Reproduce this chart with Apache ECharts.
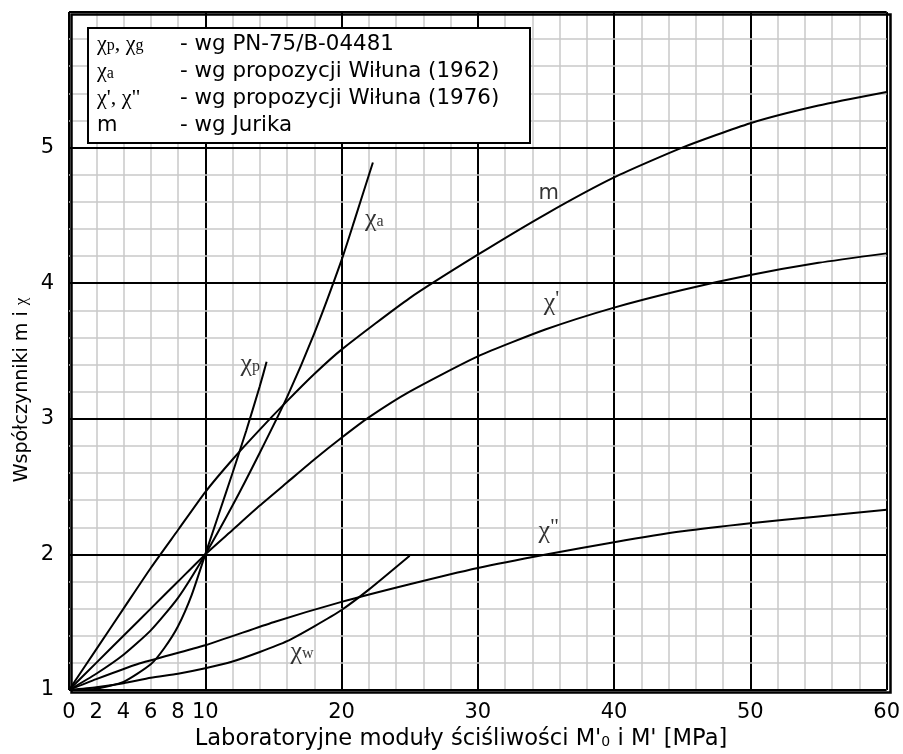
<!DOCTYPE html>
<html>
<head>
<meta charset="utf-8">
<script src="https://cdn.jsdelivr.net/npm/echarts@6/dist/echarts.min.js"></script>
<style>
  html, body { margin: 0; padding: 0; background: #fff; }
  #chart { width: 903px; height: 754px; }
</style>
</head>
<body>
<div id="chart"></div>
<script>
// Curves: x = laboratory modulus [MPa], y = coefficient value
const mX = [0, 2, 4, 6, 8, 10, 12, 14, 16, 18, 20, 25, 30, 35, 40, 45, 50, 55, 60];
const mY = [1, 1.3, 1.6, 1.9, 2.18, 2.46, 2.7, 2.92, 3.13, 3.33, 3.51, 3.89, 4.21, 4.51, 4.78, 5.0, 5.18, 5.31, 5.41];

const chiPrimeX = [0, 2, 4, 6, 8, 10, 12, 14, 16, 18, 20, 22, 25, 30, 35, 40, 45, 50, 55, 60];
const chiPrimeY = [1, 1.2, 1.4, 1.6, 1.8, 2.0, 2.18, 2.36, 2.53, 2.7, 2.86, 3.01, 3.2, 3.46, 3.66, 3.82, 3.95, 4.06, 4.15, 4.22];

const chiBisX = [0, 2, 5, 10, 15, 20, 25, 30, 35, 40, 45, 50, 55, 60];
const chiBisY = [1, 1.08, 1.19, 1.33, 1.5, 1.65, 1.78, 1.9, 2.0, 2.09, 2.17, 2.23, 2.28, 2.33];

const chiWX = [0, 2, 4, 6, 8, 10, 12, 14, 16, 18, 20, 22, 25];
const chiWY = [1, 1.02, 1.05, 1.09, 1.12, 1.16, 1.21, 1.28, 1.36, 1.47, 1.59, 1.74, 1.99];

const chiAX = [0, 2, 4, 6, 8, 10, 12, 14, 16, 18, 20, 21, 22.3];
const chiAY = [1, 1.12, 1.26, 1.44, 1.68, 2.0, 2.36, 2.75, 3.16, 3.63, 4.17, 4.48, 4.89];

const chiPX = [0, 2, 4, 6, 7, 8, 9, 10, 11, 12, 13, 14, 14.5];
const chiPY = [1, 1.01, 1.06, 1.19, 1.31, 1.47, 1.7, 2.0, 2.3, 2.6, 2.91, 3.24, 3.42];

// Curve name labels (placed in data units)
const curveLabelText = ['m', "{c|χ}{p|'}", '{c|χ}{p|"}', '{c|χ}{s|a}', '{c|χ}{s|p}', '{c|χ}{s|w}'];
const curveLabelX = [35.2, 35.4, 35.2, 22.4, 13.3, 17.1];
const curveLabelY = [4.66, 3.85, 2.17, 4.47, 3.4, 1.28];

// Axis ticks
const xMajorTicks = [0, 2, 4, 6, 8, 10, 20, 30, 40, 50, 60];
const yTicks = [1, 2, 3, 4, 5];

// Legend rows
const legendSymbols = ['{c|χ}{s|p}{c|, χ}{s|g}', '{c|χ}{s|a}', "{c|χ', χ\"}", '{m|m}'];
const legendTexts = ['- wg PN-75/B-04481', '- wg propozycji Wiłuna (1962)', '- wg propozycji Wiłuna (1976)', '- wg Jurika'];

const SANS = 'DejaVu Sans';
const SERIF = 'Liberation Serif';

const zip = (xs, ys) => xs.map((x, i) => [x, ys[i]]);

const chart = echarts.init(document.getElementById('chart'), null, { renderer: 'canvas' });

const curve = (name, xs, ys) => ({
  name, type: 'line', xAxisIndex: 0, yAxisIndex: 0,
  data: zip(xs, ys), showSymbol: false, symbol: 'none',
  smooth: 0.2,
  lineStyle: { color: '#000', width: 2 }, z: 5, silent: true
});

const legendGraphic = [];
legendGraphic.push({
  type: 'rect', left: 87, top: 27, z: 20,
  shape: { width: 442, height: 115 },
  style: { fill: '#fff', stroke: '#000', lineWidth: 2 }
});
legendSymbols.forEach((s, i) => {
  const yc = 44 + i * 27.3;
  legendGraphic.push({
    type: 'text', x: 97, y: yc, z: 21,
    style: {
      text: s, textVerticalAlign: 'middle', fill: '#000',
      rich: {
        c: { fontFamily: SERIF, fontSize: 22, fill: '#000' },
        s: { fontFamily: SERIF, fontSize: 16, fill: '#000', padding: [4, 0, 0, 0] },
        m: { fontFamily: SANS, fontSize: 21, fill: '#000' }
      }
    }
  });
  legendGraphic.push({
    type: 'text', x: 180, y: yc, z: 21,
    style: { text: legendTexts[i], font: '21.4px "DejaVu Sans"', fill: '#000', textVerticalAlign: 'middle' }
  });
});

const option = {
  backgroundColor: '#fff',
  animation: false,
  grid: { left: 69, right: 15, top: 12, bottom: 64, show: false },
  xAxis: [
    {
      type: 'value', min: 0, max: 60, interval: 2,
      axisLine: { show: false }, axisTick: { show: false },
      axisLabel: {
        show: true, margin: 12, color: '#000', fontFamily: SANS, fontSize: 21,
        formatter: v => (xMajorTicks.indexOf(v) >= 0 ? String(v) : ''),
        showMinLabel: true, showMaxLabel: true, hideOverlap: false
      },
      splitLine: { show: true, lineStyle: { color: '#c8c8c8', width: 1.5 } }
    },
    {
      type: 'value', min: 0, max: 60, interval: 10, position: 'top',
      axisLine: { show: false }, axisTick: { show: false }, axisLabel: { show: false },
      splitLine: { show: true, lineStyle: { color: '#000', width: 2 } }
    }
  ],
  yAxis: [
    {
      type: 'value', min: 1, max: 6, interval: 1,
      axisLine: { show: false }, axisTick: { show: false },
      axisLabel: {
        show: true, margin: 15, color: '#000', fontFamily: SANS, fontSize: 21,
        formatter: v => (yTicks.indexOf(v) >= 0 ? String(v) : '')
      },
      splitLine: { show: true, lineStyle: { color: '#000', width: 2 } },
      z: 3
    },
    {
      type: 'value', min: 1, max: 6, interval: 0.2, position: 'right',
      axisLine: { show: false }, axisTick: { show: false }, axisLabel: { show: false },
      splitLine: { show: true, lineStyle: { color: '#c8c8c8', width: 1.5 } },
      z: 1
    }
  ],
  graphic: [
    // plot frame
    {
      type: 'rect', left: 69, top: 12, z: 10, silent: true,
      shape: { width: 819, height: 678 },
      style: { fill: 'none', stroke: '#000', lineWidth: 2.5 }
    },
    {
      type: 'text', x: 461, y: 739, z: 10,
      style: {
        text: "Laboratoryjne moduły ściśliwości M'{s|0} i M' [MPa]",
        font: '22.6px "DejaVu Sans"', fill: '#000',
        textAlign: 'center', textVerticalAlign: 'middle',
        rich: { s: { fontFamily: SANS, fontSize: 14, fill: '#000', padding: [7, 0, 0, 0] } }
      }
    },
    {
      type: 'text', x: 22, y: 390, rotation: Math.PI / 2, z: 10,
      style: {
        text: 'Współczynniki m i {c|χ}',
        font: '19px "DejaVu Sans"', fill: '#000',
        textAlign: 'center', textVerticalAlign: 'middle',
        rich: { c: { fontFamily: SERIF, fontSize: 17, fill: '#000' } }
      }
    },
    ...legendGraphic
  ],
  series: [
    curve('m', mX, mY),
    curve("χ'", chiPrimeX, chiPrimeY),
    curve('χ"', chiBisX, chiBisY),
    curve('χw', chiWX, chiWY),
    curve('χa', chiAX, chiAY),
    curve('χp', chiPX, chiPY),
    {
      name: 'labels', type: 'scatter', xAxisIndex: 0, yAxisIndex: 0,
      symbolSize: 0, silent: true, z: 6,
      data: curveLabelX.map((x, i) => ({ value: [x, curveLabelY[i]], txt: curveLabelText[i] })),
      label: {
        show: true, position: 'inside', color: '#000',
        formatter: p => p.data.txt,
        fontFamily: SANS, fontSize: 21,
        rich: {
          c: { fontFamily: SERIF, fontSize: 26, color: '#000' },
          p: { fontFamily: SERIF, fontSize: 22, color: '#000', padding: [0, 0, 8, 0] },
          s: { fontFamily: SERIF, fontSize: 16, color: '#000', padding: [4, 0, 0, 0] }
        }
      }
    }
  ]
};

chart.setOption(option);
</script>
</body>
</html>
